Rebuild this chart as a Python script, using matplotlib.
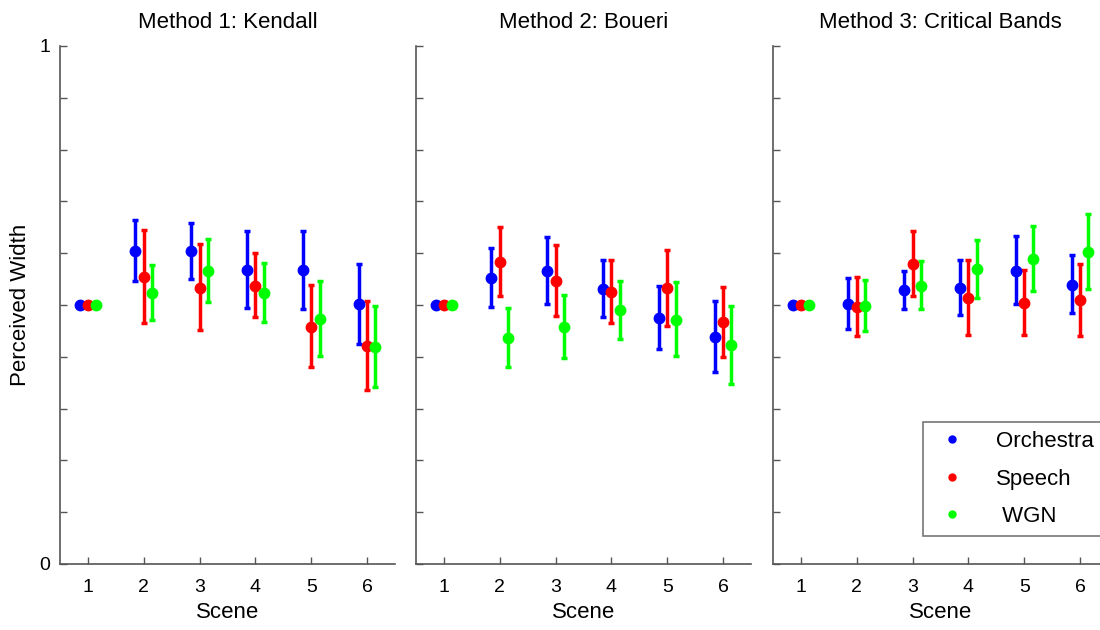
import numpy as np
import matplotlib
matplotlib.use("Agg")
import matplotlib.pyplot as plt
from matplotlib.lines import Line2D

plt.rcParams['font.family'] = ['Liberation Sans', 'DejaVu Sans']

scenes = [1, 2, 3, 4, 5, 6]
series = ['Orchestra', 'Speech', 'WGN']
legend_labels = ['Orchestra', 'Speech', ' WGN']
colors = ['#0000ff', '#ff0000', '#00ff00']
titles = ['Method 1: Kendall', 'Method 2: Boueri', 'Method 3: Critical Bands']

# mean, lower end, upper end for each method / series / scene
k_mean = [[0.50, 0.604, 0.604, 0.568, 0.568, 0.501],
          [0.50, 0.554, 0.533, 0.537, 0.458, 0.421],
          [0.50, 0.524, 0.566, 0.524, 0.473, 0.419]]
k_low = [[0.50, 0.546, 0.550, 0.495, 0.493, 0.424],
         [0.50, 0.465, 0.452, 0.477, 0.380, 0.336],
         [0.50, 0.472, 0.506, 0.468, 0.401, 0.341]]
k_high = [[0.50, 0.664, 0.659, 0.643, 0.643, 0.580],
          [0.50, 0.644, 0.617, 0.600, 0.539, 0.508],
          [0.50, 0.577, 0.627, 0.582, 0.546, 0.498]]

b_mean = [[0.50, 0.553, 0.565, 0.530, 0.475, 0.438],
          [0.50, 0.583, 0.546, 0.526, 0.533, 0.467],
          [0.50, 0.436, 0.458, 0.490, 0.472, 0.422]]
b_low = [[0.50, 0.496, 0.501, 0.477, 0.416, 0.370],
         [0.50, 0.518, 0.478, 0.465, 0.459, 0.400],
         [0.50, 0.380, 0.398, 0.435, 0.402, 0.348]]
b_high = [[0.50, 0.611, 0.632, 0.586, 0.537, 0.508],
          [0.50, 0.650, 0.616, 0.587, 0.607, 0.535],
          [0.50, 0.495, 0.519, 0.546, 0.544, 0.498]]

c_mean = [[0.50, 0.502, 0.529, 0.532, 0.566, 0.539],
          [0.50, 0.497, 0.579, 0.513, 0.504, 0.509],
          [0.50, 0.499, 0.537, 0.569, 0.588, 0.602]]
c_low = [[0.50, 0.453, 0.492, 0.481, 0.501, 0.484],
         [0.50, 0.441, 0.517, 0.443, 0.443, 0.441],
         [0.50, 0.450, 0.492, 0.514, 0.527, 0.531]]
c_high = [[0.50, 0.553, 0.566, 0.586, 0.634, 0.596],
          [0.50, 0.555, 0.642, 0.586, 0.567, 0.579],
          [0.50, 0.548, 0.585, 0.626, 0.652, 0.676]]

methods = [(k_mean, k_low, k_high), (b_mean, b_low, b_high), (c_mean, c_low, c_high)]
offsets = [-0.15, 0.0, 0.15]

fig = plt.figure(figsize=(11, 6.3), dpi=100)
lefts = [60 / 1100, 416 / 1100, 773 / 1100]
bottom = 1 - 564 / 630
height = (564 - 46) / 630
width = 335 / 1100

spine_col = '#555555'
for p, (mean, low, high) in enumerate(methods):
    ax = fig.add_axes([lefts[p], bottom, width, height])
    for s in range(3):
        m = np.array(mean[s])
        lo = np.array(low[s])
        hi = np.array(high[s])
        x = np.array(scenes) + offsets[s]
        yerr = np.vstack([m - lo, hi - m])
        ax.errorbar(x, m, yerr=yerr, fmt='o', color=colors[s], ms=7.5,
                    elinewidth=2.5, capsize=2.4, capthick=2.5, zorder=3)
    ax.set_xlim(0.5, 6.5)
    ax.set_ylim(0, 1)
    ax.set_xticks(scenes)
    ax.set_yticks(np.arange(0, 1.01, 0.1))
    if p == 0:
        ax.set_yticklabels(['0'] + [''] * 9 + ['1'])
    else:
        ax.set_yticklabels([''] * 11)
    ax.tick_params(direction='in', length=5, width=1, color=spine_col,
                   labelsize=14)
    ax.tick_params(axis='x', pad=11)
    ax.tick_params(axis='y', pad=7)
    for side in ['top', 'right']:
        ax.spines[side].set_visible(False)
    for side in ['left', 'bottom']:
        ax.spines[side].set_color(spine_col)
        ax.spines[side].set_linewidth(1.2)
    ax.set_title(titles[p], fontsize=16, pad=13)
    ax.set_xlabel('Scene', fontsize=16, labelpad=4)
    if p == 0:
        ax.set_ylabel('Perceived Width', fontsize=16, labelpad=6)
    if p == 2:
        handles = [Line2D([], [], marker='o', ls='none', color=c, ms=5) for c in colors]
        leg = fig.legend(handles, legend_labels, loc='upper left',
                         bbox_to_anchor=(923 / 1100, 1 - 422 / 630),
                         frameon=True, fancybox=False, fontsize=16,
                         handlelength=1.8, handletextpad=1.1,
                         labelspacing=0.75, borderpad=0.4, borderaxespad=0)
        leg.get_frame().set_edgecolor(spine_col)
        leg.get_frame().set_linewidth(1.2)

fig.savefig('out.png', dpi=100)
